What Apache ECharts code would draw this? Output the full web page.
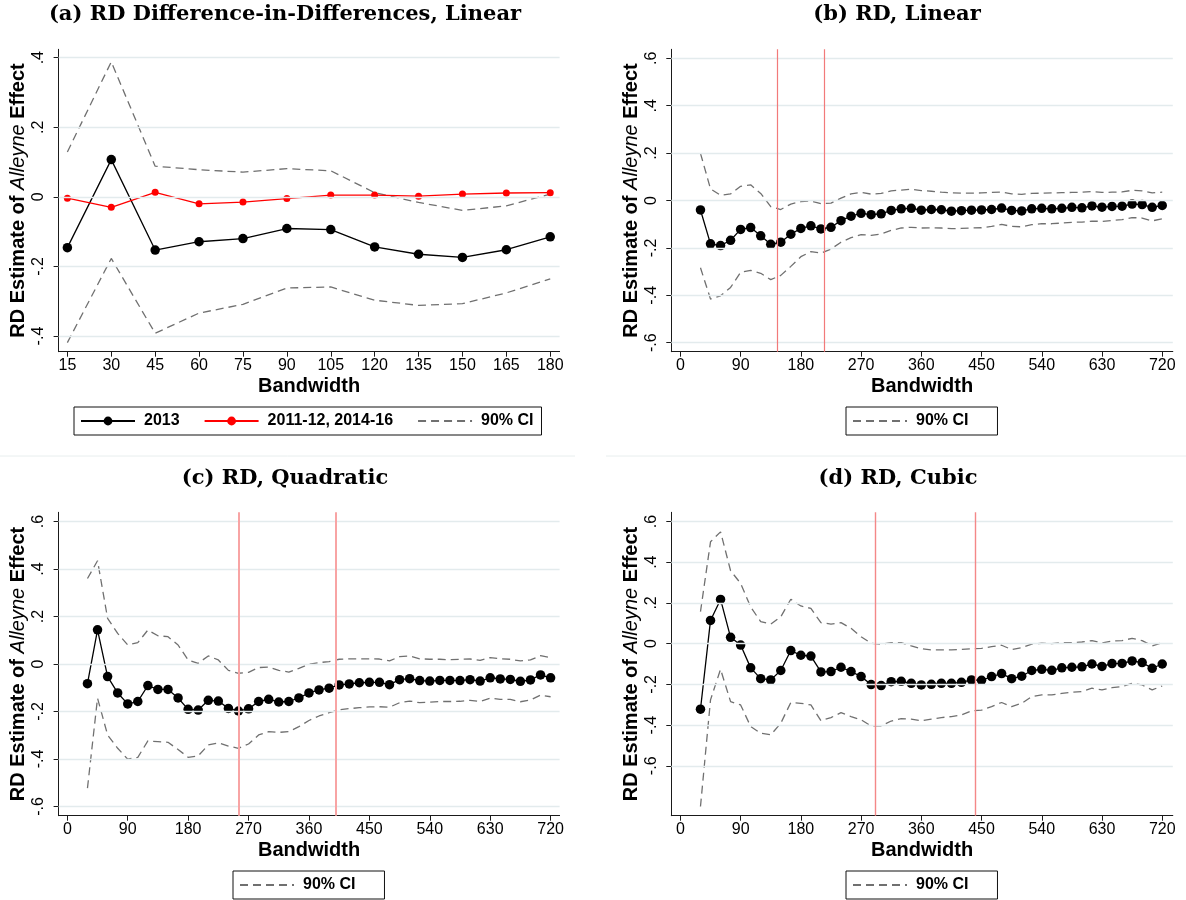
<!DOCTYPE html>
<html>
<head>
<meta charset="utf-8">
<script src="https://cdn.jsdelivr.net/npm/echarts@6/dist/echarts.min.js"></script>
<style>
  html, body { margin: 0; padding: 0; background: #fff; }
  #main { width: 1186px; height: 900px; }
</style>
</head>
<body>
<div id="main"></div>
<script>
// panel (a): RD diff-in-diff, linear
const bwA = [15, 30, 45, 60, 75, 90, 105, 120, 135, 150, 165, 180]
const estA2013 = [-0.146, 0.107, -0.153, -0.129, -0.120, -0.091, -0.094, -0.144, -0.165, -0.174, -0.152, -0.115]
const estAOther = [-0.004, -0.030, 0.013, -0.020, -0.015, -0.005, 0.005, 0.005, 0.002, 0.008, 0.011, 0.012]
const hiA = [0.129, 0.388, 0.088, 0.078, 0.071, 0.081, 0.075, 0.012, -0.016, -0.039, -0.026, 0.008]
const loA = [-0.419, -0.177, -0.392, -0.334, -0.309, -0.262, -0.259, -0.297, -0.312, -0.307, -0.276, -0.236]

// panels (b)-(d) share the bandwidth grid
const bw = [30, 45, 60, 75, 90, 105, 120, 135, 150, 165, 180, 195, 210, 225, 240, 255, 270, 285, 300, 315,
  330, 345, 360, 375, 390, 405, 420, 435, 450, 465, 480, 495, 510, 525, 540, 555, 570, 585, 600, 615,
  630, 645, 660, 675, 690, 705, 720]

// (b) linear
const estB = [-0.040, -0.183, -0.190, -0.168, -0.122, -0.114, -0.149, -0.185, -0.176, -0.142, -0.118, -0.107, -0.120, -0.113, -0.085, -0.066, -0.054, -0.060, -0.056, -0.042,
  -0.035, -0.033, -0.041, -0.038, -0.039, -0.045, -0.043, -0.041, -0.040, -0.038, -0.032, -0.042, -0.044, -0.035, -0.033, -0.035, -0.033, -0.029, -0.031, -0.023,
  -0.028, -0.025, -0.024, -0.015, -0.017, -0.029, -0.021]
const hiB = [0.199, 0.049, 0.022, 0.028, 0.060, 0.066, 0.030, -0.026, -0.038, -0.015, -0.005, -0.002, -0.013, -0.011, 0.010, 0.028, 0.034, 0.027, 0.030, 0.041,
  0.044, 0.048, 0.042, 0.039, 0.035, 0.032, 0.031, 0.031, 0.032, 0.034, 0.036, 0.028, 0.026, 0.030, 0.031, 0.032, 0.033, 0.034, 0.035, 0.038,
  0.034, 0.035, 0.036, 0.043, 0.041, 0.032, 0.035]
const loB = [-0.284, -0.416, -0.402, -0.367, -0.303, -0.295, -0.307, -0.334, -0.316, -0.278, -0.237, -0.216, -0.222, -0.205, -0.176, -0.157, -0.144, -0.147, -0.141, -0.126,
  -0.116, -0.113, -0.116, -0.115, -0.116, -0.119, -0.118, -0.116, -0.115, -0.109, -0.101, -0.109, -0.111, -0.102, -0.098, -0.098, -0.095, -0.092, -0.091, -0.087,
  -0.088, -0.084, -0.081, -0.072, -0.074, -0.086, -0.077]

// (c) quadratic
const estC = [-0.083, 0.144, -0.053, -0.122, -0.168, -0.158, -0.091, -0.107, -0.107, -0.143, -0.191, -0.194, -0.153, -0.156, -0.187, -0.198, -0.189, -0.158, -0.149, -0.160,
  -0.158, -0.143, -0.122, -0.109, -0.102, -0.088, -0.084, -0.079, -0.077, -0.077, -0.087, -0.066, -0.062, -0.070, -0.072, -0.069, -0.069, -0.070, -0.066, -0.072,
  -0.058, -0.063, -0.065, -0.073, -0.067, -0.046, -0.058]
const hiC = [0.360, 0.435, 0.192, 0.129, 0.080, 0.090, 0.143, 0.119, 0.115, 0.080, 0.017, 0.003, 0.034, 0.017, -0.027, -0.039, -0.035, -0.015, -0.013, -0.027,
  -0.034, -0.018, -0.001, 0.006, 0.010, 0.020, 0.022, 0.022, 0.022, 0.021, 0.013, 0.031, 0.034, 0.022, 0.020, 0.020, 0.018, 0.020, 0.021, 0.015,
  0.027, 0.022, 0.020, 0.013, 0.017, 0.035, 0.027]
const loC = [-0.523, -0.144, -0.299, -0.355, -0.401, -0.393, -0.324, -0.327, -0.330, -0.360, -0.393, -0.387, -0.341, -0.332, -0.346, -0.355, -0.337, -0.299, -0.285, -0.288,
  -0.285, -0.264, -0.238, -0.219, -0.205, -0.193, -0.188, -0.184, -0.181, -0.180, -0.182, -0.163, -0.156, -0.163, -0.161, -0.158, -0.158, -0.157, -0.153, -0.158,
  -0.144, -0.149, -0.149, -0.159, -0.152, -0.131, -0.138]

// (d) cubic
const estD = [-0.322, 0.114, 0.217, 0.031, -0.007, -0.119, -0.172, -0.178, -0.132, -0.034, -0.057, -0.061, -0.139, -0.137, -0.116, -0.137, -0.162, -0.201, -0.206, -0.187,
  -0.185, -0.195, -0.203, -0.200, -0.195, -0.195, -0.190, -0.178, -0.180, -0.162, -0.147, -0.172, -0.160, -0.132, -0.126, -0.131, -0.119, -0.116, -0.114, -0.100,
  -0.112, -0.098, -0.097, -0.085, -0.093, -0.121, -0.100]
const hiD = [0.157, 0.500, 0.549, 0.358, 0.296, 0.180, 0.108, 0.096, 0.132, 0.218, 0.185, 0.173, 0.103, 0.096, 0.103, 0.075, 0.034, 0.002, -0.003, 0.005,
  0.005, -0.011, -0.025, -0.031, -0.031, -0.031, -0.028, -0.025, -0.023, -0.015, -0.008, -0.029, -0.020, -0.002, 0.002, 0.000, 0.005, 0.005, 0.008, 0.015,
  0.003, 0.013, 0.015, 0.026, 0.015, -0.011, 0.005]
const loD = [-0.800, -0.276, -0.126, -0.285, -0.301, -0.407, -0.440, -0.448, -0.391, -0.289, -0.293, -0.301, -0.378, -0.363, -0.339, -0.358, -0.374, -0.404, -0.404, -0.380,
  -0.368, -0.371, -0.379, -0.371, -0.363, -0.358, -0.350, -0.330, -0.327, -0.309, -0.289, -0.309, -0.293, -0.260, -0.252, -0.252, -0.244, -0.239, -0.235, -0.219,
  -0.227, -0.216, -0.211, -0.195, -0.203, -0.227, -0.208]

// optimal bandwidth markers (red vertical lines)
const cutB = [145, 215]
const cutC = [255, 400]
const cutD = [291, 441]

// tick labels
const xTicksA = [15, 30, 45, 60, 75, 90, 105, 120, 135, 150, 165, 180]
const xTicks = [0, 90, 180, 270, 360, 450, 540, 630, 720]
const yTicksA = [-0.4, -0.2, 0, 0.2, 0.4]
const yTicks = [-0.6, -0.4, -0.2, 0, 0.2, 0.4, 0.6]

const sans = 'Liberation Sans'
const ink = '#1a1a1a'
const gridColor = '#e3ebed'
const ciColor = '#707070'

const pairs = (xs, ys) => xs.map((x, i) => [x, ys[i]])
const stataNum = v => {
  if (v === 0) return '0'
  return (Math.round(v * 10) / 10).toString().replace('0.', '.')
}

function xAxisOf(gi, range, ticks) {
  return {
    type: 'value', gridIndex: gi, min: range[0], max: range[1],
    name: 'Bandwidth', nameLocation: 'middle', nameGap: 25,
    nameTextStyle: { fontFamily: sans, fontWeight: 'bold', fontSize: 20, color: '#000' },
    axisLine: { onZero: false, lineStyle: { color: ink, width: 1 } },
    axisTick: { customValues: ticks, length: 5, lineStyle: { color: ink } },
    axisLabel: { customValues: ticks, fontFamily: sans, fontSize: 16, color: '#000', margin: 6 },
    splitLine: { show: false }
  }
}

function yAxisOf(gi, range, ticks) {
  return {
    type: 'value', gridIndex: gi, min: range[0], max: range[1],
    name: '{b|RD Estimate of }{i|Alleyne}{b| Effect}',
    nameLocation: 'middle', nameRotate: 90, nameGap: 30,
    nameTextStyle: {
      rich: {
        b: { fontFamily: sans, fontWeight: 'bold', fontSize: 20, color: '#000' },
        i: { fontFamily: sans, fontStyle: 'italic', fontSize: 20, color: '#000' }
      }
    },
    axisLine: { onZero: false, lineStyle: { color: ink, width: 1 } },
    axisTick: { customValues: ticks, length: 5, lineStyle: { color: ink } },
    axisLabel: { customValues: ticks, rotate: 90, fontFamily: sans, fontSize: 16, color: '#000', margin: 12, formatter: stataNum },
    splitLine: { show: false }
  }
}

// horizontal gridlines drawn as a markLine on an empty series
function gridSeries(gi, ticks) {
  return {
    type: 'line', xAxisIndex: gi, yAxisIndex: gi, data: [], z: 1, silent: true,
    markLine: {
      silent: true, symbol: 'none', label: { show: false }, animation: false,
      lineStyle: { color: gridColor, width: 1.3, type: 'solid' },
      data: ticks.map(v => ({ yAxis: v }))
    }
  }
}

function ciSeries(gi, xs, ys) {
  return {
    name: '90% CI', type: 'line', xAxisIndex: gi, yAxisIndex: gi, z: 2,
    data: pairs(xs, ys), symbol: 'none', color: ciColor,
    lineStyle: { color: ciColor, width: 1.3, type: [8, 5] }
  }
}

function estSeries(gi, name, xs, ys, cut, cutStyle) {
  const s = {
    name: name, type: 'line', xAxisIndex: gi, yAxisIndex: gi, z: 3,
    data: pairs(xs, ys), symbol: 'circle', symbolSize: 9.5, color: '#000',
    lineStyle: { color: '#000', width: 1.3 }
  }
  if (cut) {
    s.markLine = {
      silent: true, symbol: 'none', label: { show: false }, animation: false,
      lineStyle: Object.assign({ type: 'solid' }, cutStyle),
      data: cut.map(v => ({ xAxis: v }))
    }
  }
  return s
}

const titleStyle = { fontFamily: 'DejaVu Serif', fontWeight: 'bold', fontSize: 21, color: '#000' }
// CI legend entry: dashed line only, no marker
const ciLegend = { name: '90% CI', itemStyle: { opacity: 0 } }
const legendBase = {
  orient: 'horizontal', itemWidth: 54, itemHeight: 11, itemGap: 24,
  borderColor: '#111', borderWidth: 1, selectedMode: false,
  textStyle: { fontFamily: sans, fontWeight: 'bold', fontSize: 16, color: '#000', padding: [0, 0, 0, 4] }
}

const chart = echarts.init(document.getElementById('main'), null, { renderer: 'canvas' })

const option = {
  animation: false,
  backgroundColor: '#fff',
  title: [
    { text: '(a) RD Difference-in-Differences, Linear', left: 285, top: 4, textAlign: 'center', padding: 0, textStyle: titleStyle },
    { text: '(b) RD, Linear', left: 897, top: 4, textAlign: 'center', padding: 0, textStyle: titleStyle },
    { text: '(c) RD, Quadratic', left: 285, top: 468, textAlign: 'center', padding: 0, textStyle: titleStyle },
    { text: '(d) RD, Cubic', left: 898, top: 468, textAlign: 'center', padding: 0, textStyle: titleStyle }
  ],
  legend: [
    Object.assign({}, legendBase, { data: ['2013', '2011-12, 2014-16', ciLegend], left: 74, top: 407, padding: [6, 8, 6, 6] }),
    Object.assign({}, legendBase, { data: [ciLegend], left: 846, top: 407, padding: [6, 29, 6, 6] }),
    Object.assign({}, legendBase, { data: [ciLegend], left: 233, top: 871, padding: [6, 29, 6, 6] }),
    Object.assign({}, legendBase, { data: [ciLegend], left: 846, top: 871, padding: [6, 29, 6, 6] })
  ],
  grid: [
    { left: 58.6, top: 49.3, width: 501, height: 302.4 },
    { left: 671.3, top: 49.3, width: 501.5, height: 302.4 },
    { left: 58.6, top: 512.3, width: 501, height: 303.4 },
    { left: 671.3, top: 512.3, width: 501.5, height: 303.4 }
  ],
  xAxis: [
    xAxisOf(0, [12.0, 183.2], xTicksA),
    xAxisOf(1, [-13.6, 735.8], xTicks),
    xAxisOf(2, [-13.0, 733.4], xTicks),
    xAxisOf(3, [-13.6, 735.8], xTicks)
  ],
  yAxis: [
    yAxisOf(0, [-0.445, 0.424], yTicksA),
    yAxisOf(1, [-0.638, 0.638], yTicks),
    yAxisOf(2, [-0.639, 0.639], yTicks),
    yAxisOf(3, [-0.845, 0.645], yTicks)
  ],
  graphic: [
    { type: 'line', shape: { x1: 0, y1: 456, x2: 575, y2: 456 }, style: { stroke: '#e8eeee', lineWidth: 1 }, silent: true },
    { type: 'line', shape: { x1: 606, y1: 456, x2: 1186, y2: 456 }, style: { stroke: '#e8eeee', lineWidth: 1 }, silent: true }
  ],
  series: [
    gridSeries(0, yTicksA),
    ciSeries(0, bwA, hiA),
    ciSeries(0, bwA, loA),
    estSeries(0, '2013', bwA, estA2013),
    {
      name: '2011-12, 2014-16', type: 'line', xAxisIndex: 0, yAxisIndex: 0, z: 3,
      data: pairs(bwA, estAOther), symbol: 'circle', symbolSize: 7, color: '#ff0000',
      lineStyle: { color: '#ff0000', width: 1.3 }
    },

    gridSeries(1, yTicks),
    ciSeries(1, bw, hiB),
    ciSeries(1, bw, loB),
    estSeries(1, 'est_b', bw, estB, cutB, { color: '#f27a7a', width: 1.2 }),

    gridSeries(2, yTicks),
    ciSeries(2, bw, hiC),
    ciSeries(2, bw, loC),
    estSeries(2, 'est_c', bw, estC, cutC, { color: '#f8a4a4', width: 2 }),

    gridSeries(3, yTicks),
    ciSeries(3, bw, hiD),
    ciSeries(3, bw, loD),
    estSeries(3, 'est_d', bw, estD, cutD, { color: '#f48888', width: 1.4 })
  ]
}

chart.setOption(option)
</script>
</body>
</html>
